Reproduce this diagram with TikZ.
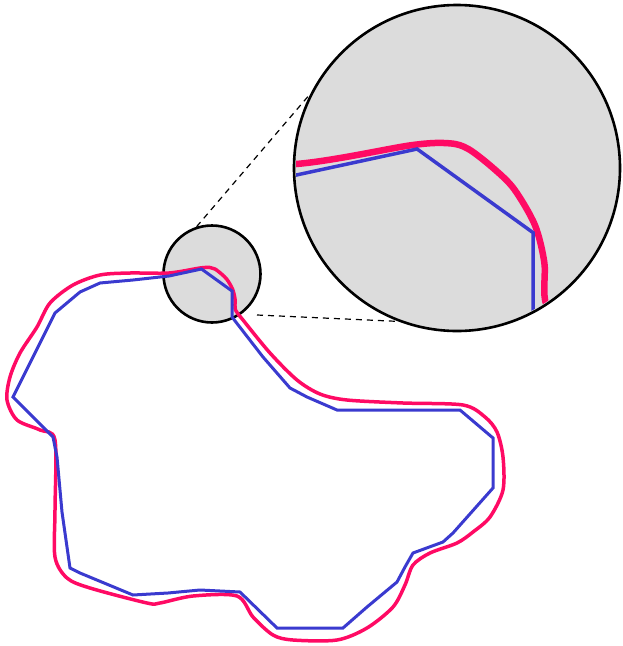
\documentclass[tikz,border=0pt]{standalone}
\usetikzlibrary{shapes.geometric}

\definecolor{rimred}{HTML}{FF0A64}
\definecolor{polyblue}{HTML}{3A3ACF}
\definecolor{lensgrey}{HTML}{DCDCDC}

% exact polygon and its smooth approximation (pixel units)
\newcommand{\polyloop}{(201.5,269) -- (232,291) -- (232,317) -- (263,357) -- (290,388) -- (307,397)
  -- (337,410) -- (460,410) -- (493,438) -- (493,488) -- (453,533) -- (443,542) -- (413,553)
  -- (405,567) -- (397,582) -- (367,607) -- (343,628) -- (277,628) -- (240,592) -- (200,590)
  -- (168,593) -- (133,595) -- (80,573) -- (70,568) -- (62,512) -- (57,457) -- (53,437)
  -- (13,397) -- (55,313) -- (80,292) -- (100,283) -- (133,280) -- (169,276) -- cycle}
\newcommand{\smoothloop}{plot[smooth cycle, tension=0.5] coordinates {(200,268) (210,267.5)
  (215,269) (221.5,274) (227,279.5) (232.5,289) (235,299) (235.5,310) (243,320) (270,353)
  (297,380) (320,394) (347,400) (403,403) (463,405) (485,417) (497,432) (503,457) (503,490)
  (490,517) (473,532) (457,543) (430,553) (413,565) (405,585) (393,607) (367,628) (337,640)
  (293,640) (273,635) (253,617) (237,596) (193,596) (160,603) (147,603) (90,588) (67,578)
  (55,557) (55,510) (55,440) (40,430) (17,420) (7,400) (10,377) (20,353) (37,327) (50,303)
  (73,285) (100,275) (130,273) (169,273)}}

\begin{document}
\begin{tikzpicture}[x=1pt, y=-1pt,
    lens/.style={circle, draw=black, line width=2.6pt, fill=lensgrey, inner sep=0pt},
    redline/.style={draw=rimred, line width=3.5pt, line join=round},
    blueline/.style={draw=polyblue, line width=3pt, line join=miter},
    guide/.style={dashed, line width=1.2pt, dash pattern=on 6pt off 5pt}]
  \useasboundingbox (0,0) rectangle (622,646);
  % Lens on the curve and its enlarged copy
  \node[lens, minimum size=97pt] (spot) at (212,274) {};
  \node[lens, minimum size=326pt] (zoom) at (457,168) {};
  \coordinate (lowtip) at (257,315);
  \draw[guide] (spot.108) -- (zoom.153);
  \draw[guide] (lowtip) -- (zoom.-111);
  % Curves
  \draw[redline] \smoothloop;
  \draw[blueline] \polyloop;
  % Enlarged view
  \begin{scope}
    \clip (zoom.center) circle (161pt);
    \begin{scope}[shift={(457,168)}, scale=3.8, shift={(-212,-274)}]
      \draw[redline, line width=6.5pt] \smoothloop;
      \draw[blueline, line width=3.5pt] \polyloop;
    \end{scope}
  \end{scope}
\end{tikzpicture}
\end{document}
